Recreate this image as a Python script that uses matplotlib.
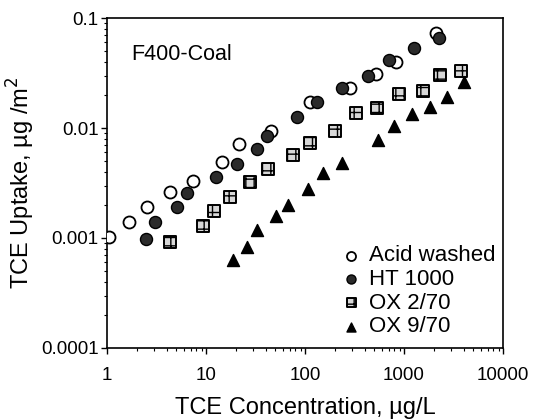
import matplotlib
matplotlib.use("Agg")
import matplotlib.pyplot as plt
from matplotlib.ticker import FixedLocator, FixedFormatter, LogLocator, NullFormatter

plt.rcParams['font.family'] = ['Liberation Sans', 'DejaVu Sans']

# Acid washed (open circles)
acid_x = [1.05, 1.67, 2.55, 4.33, 7.45, 14.4, 21.5, 45, 112, 285, 521, 830, 2105]
acid_y = [0.00103, 0.0014, 0.0019, 0.00264, 0.0033, 0.00494, 0.00716, 0.00946,
          0.0173, 0.0232, 0.031, 0.0398, 0.0726]

# HT 1000 (filled circles)
ht_x = [2.46, 3.05, 5.06, 6.47, 12.5, 20.4, 32.5, 41.6, 83.7, 133, 235, 436, 705, 1270, 2258]
ht_y = [0.00098, 0.0014, 0.0019, 0.00258, 0.0036, 0.0047, 0.0065, 0.00845,
        0.0127, 0.0173, 0.023, 0.0299, 0.0415, 0.0537, 0.0662]

# OX 2/70 (squares)
ox2_x = [4.33, 9.4, 12.1, 17.5, 27.8, 42, 76, 112, 201, 327, 538, 890, 1568, 2311, 3733]
ox2_y = [0.000925, 0.00129, 0.00177, 0.00237, 0.00325, 0.00424, 0.00569, 0.00734,
         0.0094, 0.0136, 0.0151, 0.0202, 0.0218, 0.0303, 0.0332]

# OX 9/70 (triangles)
ox9_x = [18.6, 25.8, 33, 51, 68, 108, 153, 235, 542, 798, 1213, 1832, 2742, 4070]
ox9_y = [0.00063, 0.00082, 0.00117, 0.00158, 0.002, 0.00277, 0.00387, 0.00478,
         0.00778, 0.0105, 0.0133, 0.0154, 0.0193, 0.0264]

x_ticks = [1, 10, 100, 1000, 10000]
x_labels = ["1", "10", "100", "1000", "10000"]
y_ticks = [0.0001, 0.001, 0.01, 0.1]
y_labels = ["0.0001", "0.001", "0.01", "0.1"]

fig = plt.figure(figsize=(5.38, 4.19), dpi=100)
ax = fig.add_axes([0.199, 0.1695, 0.736, 0.7875])

ms = 75
ax.scatter(acid_x, acid_y, s=ms, marker='o', facecolors='white', edgecolors='black',
           linewidths=1.3, label="Acid washed", zorder=3)
ax.scatter(ht_x, ht_y, s=ms, marker='o', facecolors='#2b2b2b', edgecolors='black',
           linewidths=1.0, label="HT 1000", zorder=4)
ax.scatter(ox2_x, ox2_y, s=ms, marker='s', facecolors='#d8d8d8', edgecolors='black',
           linewidths=1.4, hatch='++', label="OX 2/70", zorder=3)
ax.scatter(ox9_x, ox9_y, s=ms, marker='^', facecolors='black', edgecolors='black',
           linewidths=1.0, label="OX 9/70", zorder=3)

ax.set_xscale('log')
ax.set_yscale('log')
ax.set_xlim(1, 10000)
ax.set_ylim(0.0001, 0.1)

ax.xaxis.set_major_locator(FixedLocator(x_ticks))
ax.xaxis.set_major_formatter(FixedFormatter(x_labels))
ax.yaxis.set_major_locator(FixedLocator(y_ticks))
ax.yaxis.set_major_formatter(FixedFormatter(y_labels))
ax.xaxis.set_minor_locator(LogLocator(base=10, subs=range(2, 10), numticks=20))
ax.yaxis.set_minor_locator(LogLocator(base=10, subs=range(2, 10), numticks=20))
ax.xaxis.set_minor_formatter(NullFormatter())
ax.yaxis.set_minor_formatter(NullFormatter())

ax.tick_params(which='major', direction='out', length=4, width=1.0, labelsize=13.5)
ax.tick_params(axis='x', which='major', pad=10)
ax.tick_params(axis='y', which='major', pad=2)
ax.tick_params(which='minor', direction='out', length=2.5, width=0.8)
ax.tick_params(top=False, right=False)
for sp in ax.spines.values():
    sp.set_linewidth(1.2)

ax.set_xlabel("TCE Concentration, µg/L", fontsize=17, labelpad=9)
ax.set_ylabel("TCE Uptake, µg /m$^2$", fontsize=17, labelpad=3)

ax.text(0.06, 0.873, "F400-Coal", transform=ax.transAxes, fontsize=15.5, va='baseline')

ax.legend(loc='lower right', bbox_to_anchor=(1.02, -0.015), frameon=False, fontsize=16,
          handletextpad=0.2, labelspacing=0.12, markerscale=0.75, borderaxespad=0.3,
          handlelength=1.2)

fig.savefig("out.png", dpi=100)
